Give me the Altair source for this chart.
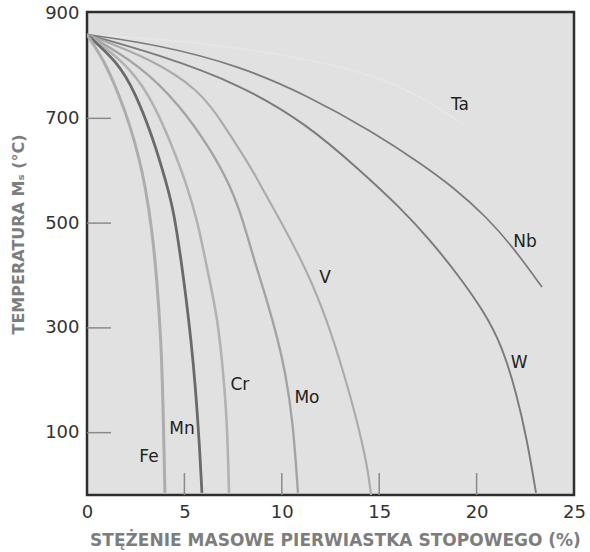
import altair as alt
import pandas as pd

# --- data (x = wt.% of alloying element, t = Ms temperature in °C)
elements = ["Ta", "Nb", "W", "V", "Mo", "Cr", "Mn", "Fe"]

ta_x = [0, 4.77, 9.91, 15.04, 17.61, 19.40]
ta_t = [860, 849, 824, 782, 731, 687]

nb_x = [0, 3.75, 7.85, 11.29, 14.68, 17.09, 18.79, 20.53, 21.87, 23.36]
nb_t = [860, 840, 800, 744, 674, 615, 569, 511, 454, 378]

w_x = [0, 3.75, 7.85, 11.29, 14.01, 16.07, 17.61, 19.05, 20.33, 21.30, 22.07, 22.59, 23.05]
w_t = [860, 821, 765, 689, 601, 530, 468, 401, 334, 267, 172, 86, -15]

v_x = [0, 3.23, 5.80, 7.03, 8.11, 8.52, 9.91, 11.29, 12.32, 13.14, 13.86, 14.43, 14.58]
v_t = [860, 815, 754, 687, 624, 599, 506, 410, 315, 219, 124, 29, -19]

mo_x = [0, 2.72, 4.77, 6.31, 7.34, 8.01, 8.62, 9.24, 9.80, 10.16, 10.57, 10.83]
mo_t = [860, 802, 725, 643, 573, 506, 424, 353, 277, 219, 124, -15]

cr_x = [0, 1.95, 3.23, 4.26, 5.13, 5.70, 6.21, 6.72, 6.98, 7.19, 7.29]
cr_t = [860, 807, 744, 658, 573, 500, 405, 315, 219, 124, -15]

mn_x = [0, 1.59, 2.46, 3.34, 4.11, 4.47, 4.85, 5.08, 5.34, 5.57, 5.80, 5.90]
mn_t = [860, 807, 750, 668, 573, 519, 424, 359, 277, 187, 61, -15]

fe_x = [0, 0.87, 1.59, 2.21, 2.67, 2.98, 3.34, 3.59, 3.80, 3.90, 4.00]
fe_t = [860, 811, 750, 687, 624, 573, 487, 391, 277, 162, -15]

label_x = [19.15, 22.48, 22.18, 12.22, 11.29, 7.85, 4.88, 3.18]
label_t = [725, 464, 233, 395, 166, 191, 107, 53]

line_colors = ["#e7e7e7", "#7b7b7b", "#7b7b7b", "#ababab", "#a3a3a3", "#b2b2b2", "#6a6a6a", "#adadad"]
line_widths = [1.5, 3, 3, 2.5, 2.5, 2.5, 3, 2.5]

x_ticks = [0, 5, 10, 15, 20, 25]
y_ticks = [100, 300, 500, 700, 900]
x_inner_ticks = [5, 10, 15, 20]
y_inner_ticks = [100, 300, 500, 700]

x_title = "STĘŻENIE MASOWE PIERWIASTKA STOPOWEGO (%)"
y_title = "TEMPERATURA Mₛ (°C)"

# --- build tables
series = {
    "Ta": (ta_x, ta_t), "Nb": (nb_x, nb_t), "W": (w_x, w_t), "V": (v_x, v_t),
    "Mo": (mo_x, mo_t), "Cr": (cr_x, cr_t), "Mn": (mn_x, mn_t), "Fe": (fe_x, fe_t),
}
rows = []
for el in elements:
    xs, ts = series[el]
    for i, (xv, tv) in enumerate(zip(xs, ts)):
        rows.append({"el": el, "i": i, "x": xv, "t": tv})
lines_df = pd.DataFrame(rows)
labels_df = pd.DataFrame({"el": elements, "x": label_x, "t": label_t})
xt_df = pd.DataFrame({"x": x_inner_ticks})
yt_df = pd.DataFrame({"t": y_inner_ticks})

W, H = 487, 483
xscale = alt.Scale(domain=[0, 25], nice=False, zero=False)
yscale = alt.Scale(domain=[-19, 903], nice=False, zero=False)

xaxis = alt.Axis(values=x_ticks, title=x_title, grid=False, ticks=False, domain=False,
                 labelFlush=False, labelPadding=8, labelFontSize=18, labelColor="#333333",
                 labelFont="DejaVu Sans", titleFont="DejaVu Sans", titleFontSize=17,
                 titleFontWeight="bold", titleColor="#7d7d7d", titleX=248, titleY=45,
                 titleAlign="center", titleBaseline="middle")
yaxis = alt.Axis(values=y_ticks, title=y_title, grid=False, ticks=False, domain=False,
                 labelFlush=False, labelPadding=8, labelFontSize=18, labelColor="#333333",
                 labelFont="DejaVu Sans", titleFont="DejaVu Sans", titleFontSize=16,
                 titleFontWeight="bold", titleColor="#7d7d7d", titleX=-69, titleY=222,
                 titleAlign="center", titleBaseline="middle", titleAngle=-90)

lines = alt.Chart(lines_df).mark_line(interpolate="basis", clip=True).encode(
    x=alt.X("x:Q", scale=xscale, axis=xaxis),
    y=alt.Y("t:Q", scale=yscale, axis=yaxis),
    color=alt.Color("el:N", scale=alt.Scale(domain=elements, range=line_colors), legend=None),
    strokeWidth=alt.StrokeWidth("el:N", scale=alt.Scale(domain=elements, range=line_widths), legend=None),
    order="i:Q",
    detail="el:N",
)

texts = alt.Chart(labels_df).mark_text(font="DejaVu Sans", fontSize=17, color="#222222",
                                       align="center", baseline="middle").encode(
    x=alt.X("x:Q", scale=xscale),
    y=alt.Y("t:Q", scale=yscale),
    text="el:N",
)

xticks = alt.Chart(xt_df).mark_rule(color="#8a8a8a", strokeWidth=1.5).encode(
    x=alt.X("x:Q", scale=xscale),
    y=alt.value(H),
    y2=alt.value(H - 22),
)
yticks = alt.Chart(yt_df).mark_rule(color="#8a8a8a", strokeWidth=1.5).encode(
    y=alt.Y("t:Q", scale=yscale),
    x=alt.value(0),
    x2=alt.value(24),
)

chart = alt.layer(yticks, xticks, lines, texts).properties(
    width=W, height=H,
    autosize=alt.AutoSizeParams(type="none"),
    padding={"left": 87, "top": 12, "right": 16, "bottom": 57},
    background="#ffffff",
).configure_view(stroke="#2e2e2e", strokeWidth=2.5, fill="#e1e1e1")

chart.save("out.html", embed_options={"renderer": "svg", "actions": False})
